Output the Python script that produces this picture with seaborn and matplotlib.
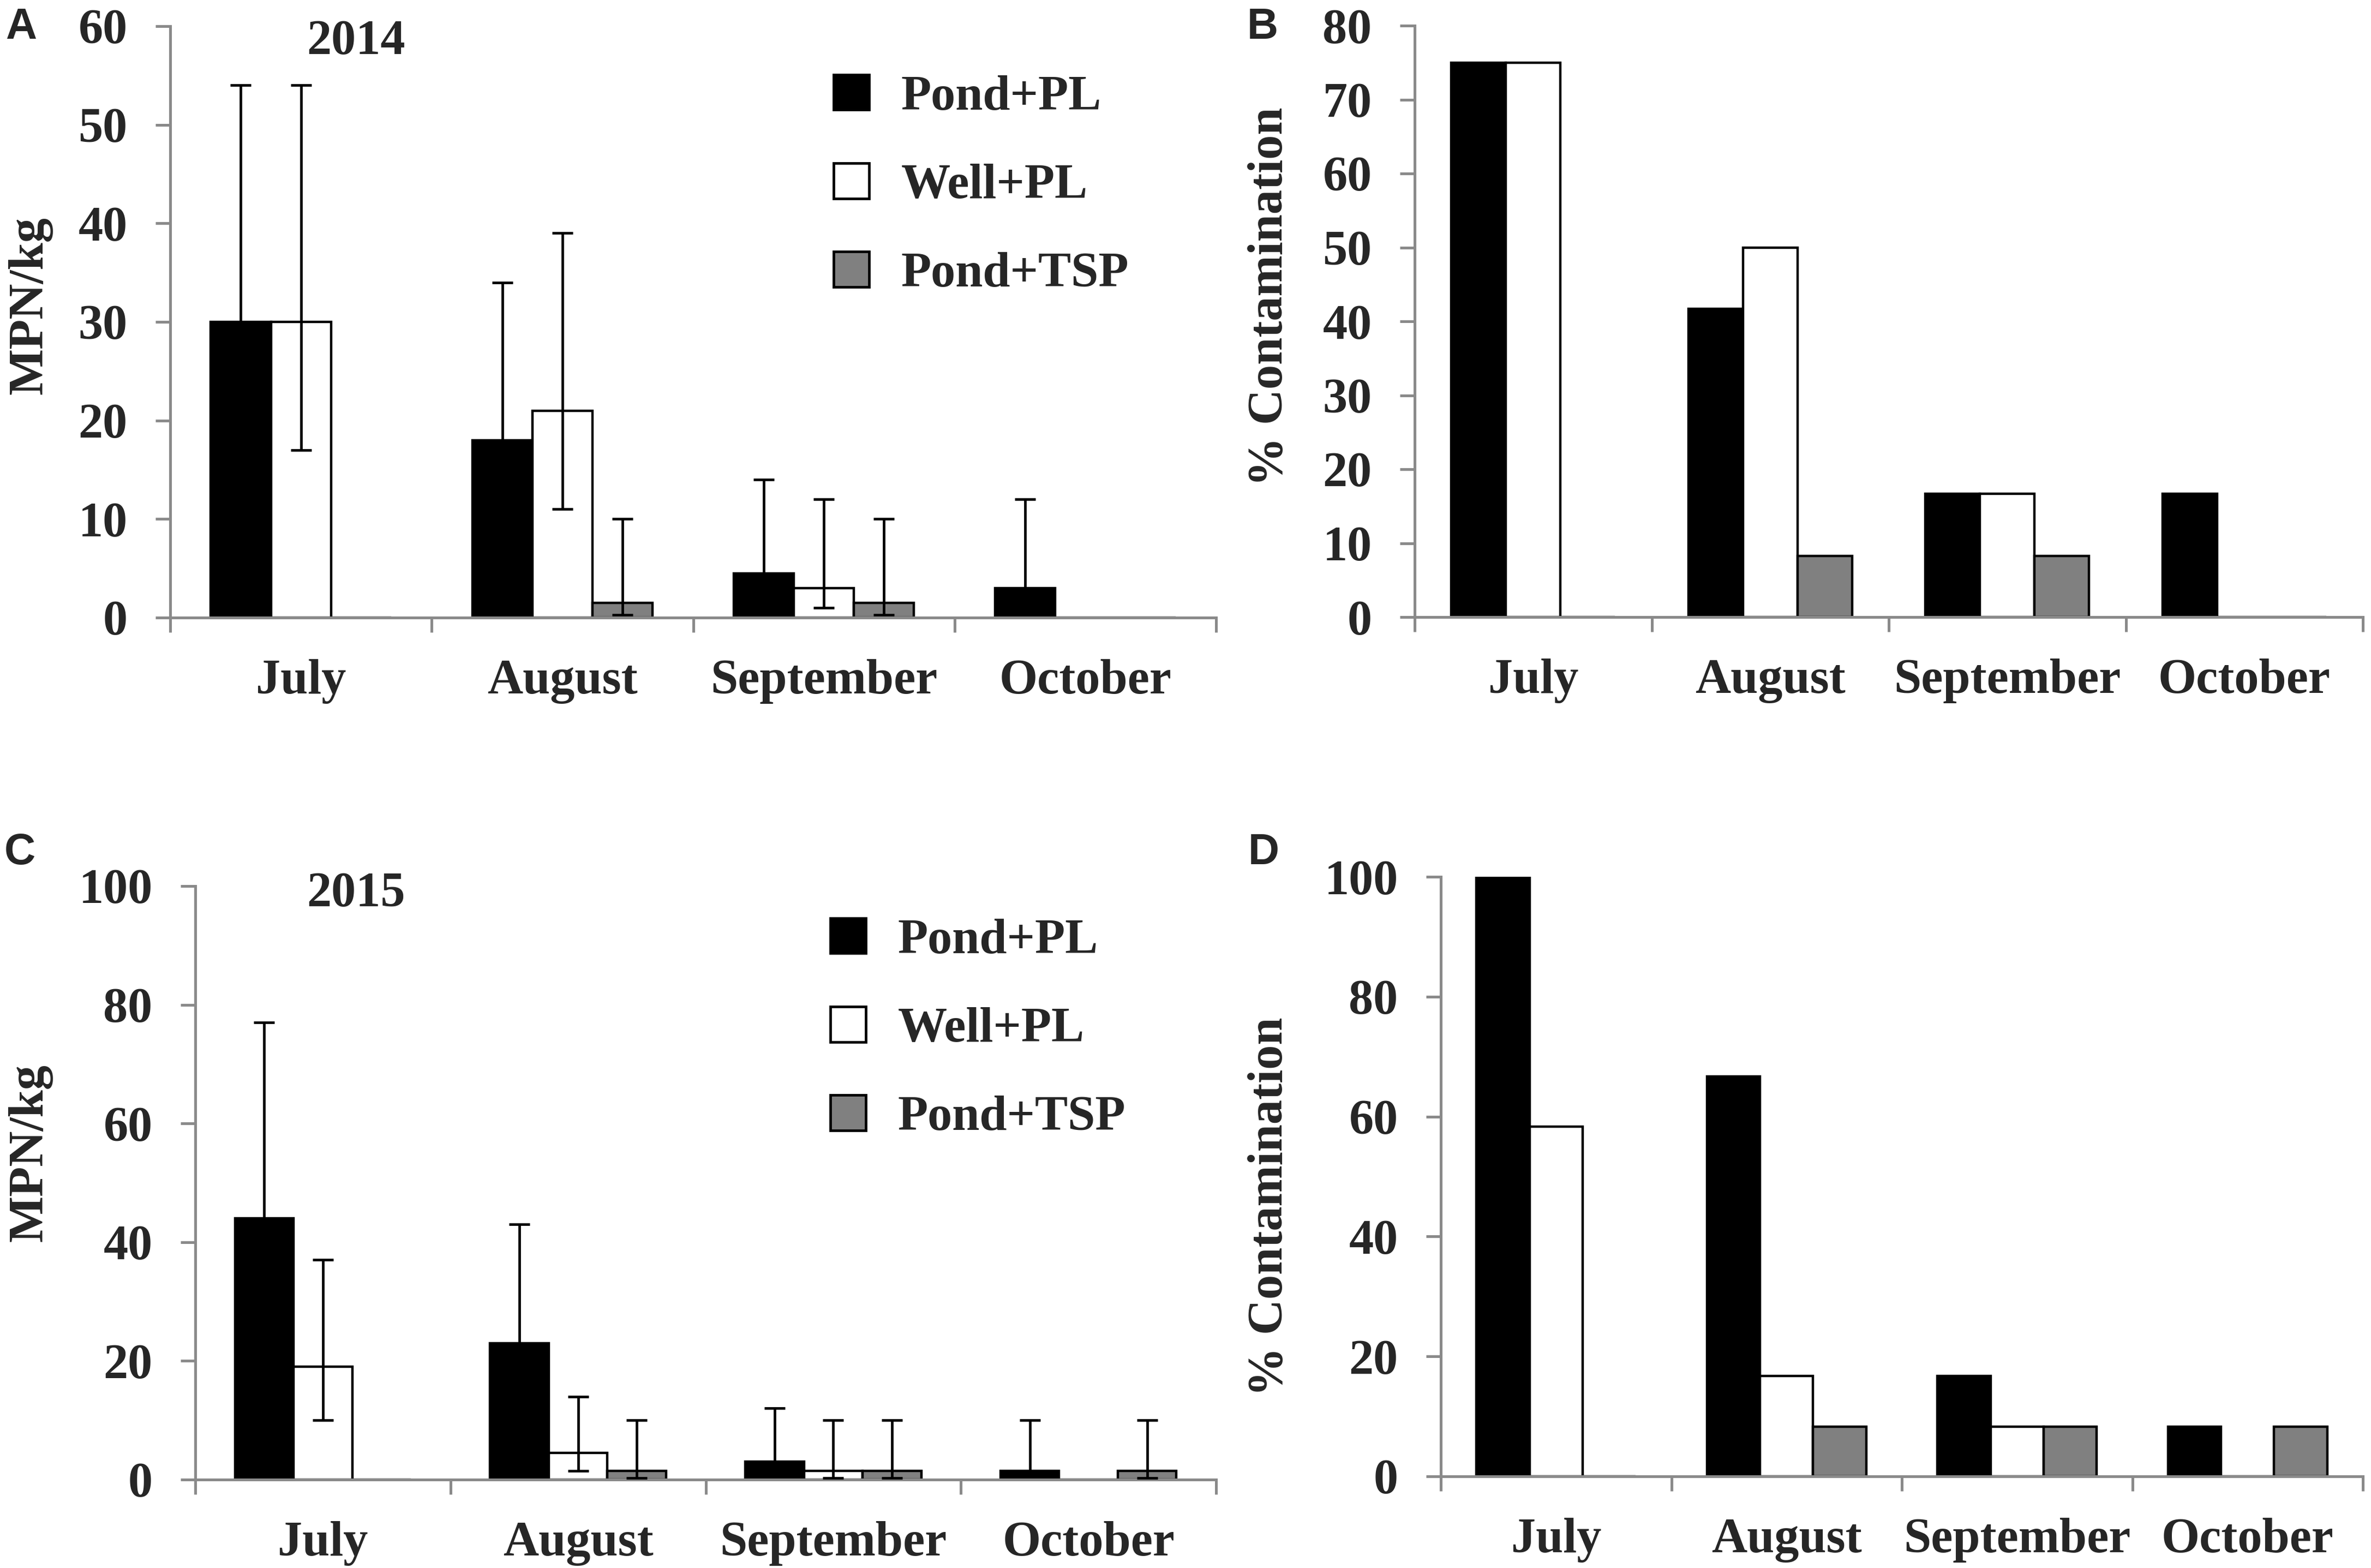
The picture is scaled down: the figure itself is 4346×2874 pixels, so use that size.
import numpy as np
import pandas as pd
import matplotlib
matplotlib.use("Agg")
import matplotlib.pyplot as plt
from matplotlib.patches import Patch
import seaborn as sns

# ---------------- data ----------------
months = ["July", "August", "September", "October"]
treatments = ["Pond+PL", "Well+PL", "Pond+TSP"]
bar_colors = ["#000000", "#ffffff", "#808080"]

# Panel A: MPN/kg 2014
mpn14_pond = [30, 18, 4.5, 3]
mpn14_well = [30, 21, 3, 0]
mpn14_tsp = [0, 1.5, 1.5, 0]
mpn14_pond_lo = [None, None, None, None]
mpn14_pond_hi = [54, 34, 14, 12]
mpn14_well_lo = [17, 11, 1, None]
mpn14_well_hi = [54, 39, 12, None]
mpn14_tsp_lo = [None, 0.3, 0.3, None]
mpn14_tsp_hi = [None, 10, 10, None]

# Panel B: % contamination 2014
pct14_pond = [75, 41.7, 16.7, 16.7]
pct14_well = [75, 50, 16.7, 0]
pct14_tsp = [0, 8.3, 8.3, 0]

# Panel C: MPN/kg 2015
mpn15_pond = [44, 23, 3, 1.5]
mpn15_well = [19, 4.5, 1.5, 0]
mpn15_tsp = [0, 1.5, 1.5, 1.5]
mpn15_pond_lo = [None, None, None, None]
mpn15_pond_hi = [77, 43, 12, 10]
mpn15_well_lo = [10, 1.5, 0.3, None]
mpn15_well_hi = [37, 14, 10, None]
mpn15_tsp_lo = [None, 0.3, 0.3, 0.3]
mpn15_tsp_hi = [None, 10, 10, 10]

# Panel D: % contamination 2015
pct15_pond = [100, 66.7, 16.7, 8.3]
pct15_well = [58.3, 16.7, 8.3, 0]
pct15_tsp = [0, 8.3, 8.3, 8.3]

# ---------------- style ----------------
sns.set_theme(style="white")
plt.rcParams["font.family"] = ["Liberation Serif", "DejaVu Serif"]
plt.rcParams["font.weight"] = "bold"
plt.rcParams["axes.labelweight"] = "bold"

W, H = 4346, 2874
DPI = 100
FS = 65
AXC = "#8a8a8a"
AXLW = 3.6
TICKLEN = 19.4

fig = plt.figure(figsize=(W / DPI, H / DPI), dpi=DPI)
fig.patch.set_facecolor("white")


def px_axes(l, r, t, b):
    return fig.add_axes([l / W, 1 - b / H, (r - l) / W, (b - t) / H])


axA = px_axes(312, 2229, 48, 1132)
axB = px_axes(2593, 4331, 47, 1131)
axC = px_axes(358, 2229, 1624, 2712)
axD = px_axes(2641, 4331, 1607, 2706)


def make_df(a, b, c):
    rows = []
    for vals, t in zip([a, b, c], treatments):
        for m, v in zip(months, vals):
            rows.append({"month": m, "treatment": t, "value": v})
    return pd.DataFrame(rows)


def draw(ax, vals, ymax, ystep, ylabel, lab_xy, errs=None):
    df = make_df(*vals)
    sns.barplot(data=df, x="month", y="value", hue="treatment",
                order=months, hue_order=treatments,
                palette=bar_colors, saturation=1, width=0.69,
                edgecolor="black", linewidth=3.2, errorbar=None,
                legend=False, ax=ax)
    if errs is not None:
        for i, (lo_list, hi_list) in enumerate(errs):
            cont = ax.containers[i]
            for j, p in enumerate(cont):
                hi = hi_list[j]
                if hi is None:
                    continue
                x = p.get_x() + p.get_width() / 2
                y = p.get_height()
                lo = lo_list[j]
                lower = 0 if lo is None else y - lo
                ax.errorbar([x], [y], yerr=[[lower], [hi - y]], fmt="none",
                            ecolor="black", elinewidth=3.4, capsize=13.5,
                            capthick=3.4, zorder=3)
    ax.set_xlim(-0.5, 3.5)
    ax.set_ylim(0, ymax)
    ax.set_yticks(np.arange(0, ymax + 0.1, ystep))
    ax.set_yticklabels([f"{int(v)}" for v in np.arange(0, ymax + 0.1, ystep)])
    ax.set_xticks([-0.5, 0.5, 1.5, 2.5, 3.5])
    ax.set_xticklabels([])
    ax.set_xticks([0, 1, 2, 3], minor=True)
    ax.set_xticklabels(months, minor=True)
    ax.tick_params(axis="x", which="major", direction="out", length=TICKLEN,
                   width=AXLW, color=AXC, bottom=True)
    ax.tick_params(axis="x", which="minor", length=0, pad=55,
                   labelsize=FS, bottom=True)
    ax.tick_params(axis="y", which="major", direction="out", length=TICKLEN,
                   width=AXLW, color=AXC, pad=37, labelsize=FS, left=True)
    for lbl in ax.get_xticklabels(minor=True) + ax.get_yticklabels():
        lbl.set_fontweight("bold")
    for s in ["top", "right"]:
        ax.spines[s].set_visible(False)
    for s in ["left", "bottom"]:
        ax.spines[s].set_color(AXC)
        ax.spines[s].set_linewidth(AXLW)
    ax.set_xlabel("")
    ax.set_ylabel(ylabel, fontsize=FS, fontweight="bold")
    ax.yaxis.set_label_coords(*lab_xy)
    ax.set_facecolor("white")


draw(axA, (mpn14_pond, mpn14_well, mpn14_tsp), 60, 10, "MPN/kg",
     (-0.1122, 0.528),
     errs=[(mpn14_pond_lo, mpn14_pond_hi), (mpn14_well_lo, mpn14_well_hi),
           (mpn14_tsp_lo, mpn14_tsp_hi)])
draw(axB, (pct14_pond, pct14_well, pct14_tsp), 80, 10, "% Contamination",
     (-0.1289, 0.5415))
draw(axC, (mpn15_pond, mpn15_well, mpn15_tsp), 100, 20, "MPN/kg",
     (-0.1395, 0.5506),
     errs=[(mpn15_pond_lo, mpn15_pond_hi), (mpn15_well_lo, mpn15_well_hi),
           (mpn15_tsp_lo, mpn15_tsp_hi)])
draw(axD, (pct15_pond, pct15_well, pct15_tsp), 100, 20, "% Contamination",
     (-0.161, 0.4495))

# legends
handles = [Patch(facecolor=c, edgecolor="black", linewidth=3.4, label=t)
           for c, t in zip(bar_colors, treatments)]
for anchor in [(1528 / W, 1 - 137 / H), (1522 / W, 1 - 1683 / H)]:
    fig.legend(handles=handles, loc="upper left", bbox_to_anchor=anchor,
               frameon=False, fontsize=FS, handlelength=0.72,
               handleheight=0.72, handletextpad=0.65, labelspacing=0.88,
               borderpad=0, borderaxespad=0,
               prop={"weight": "bold", "size": FS})

# year labels
fig.text(652 / W, 1 - 99 / H, "2014", ha="center", va="baseline",
         fontsize=FS, fontweight="bold")
fig.text(652 / W, 1 - 1661 / H, "2015", ha="center", va="baseline",
         fontsize=FS, fontweight="bold")

# panel letters
for x, y, s in [(10, 71, "A"), (2286, 71, "B"), (8, 1584, "C"), (2288, 1584, "D")]:
    fig.text(x / W, 1 - y / H, s, ha="left", va="baseline", fontsize=57,
             fontweight="bold", family=["Liberation Sans", "DejaVu Sans"])

fig.savefig("out.png", dpi=DPI, facecolor="white")
